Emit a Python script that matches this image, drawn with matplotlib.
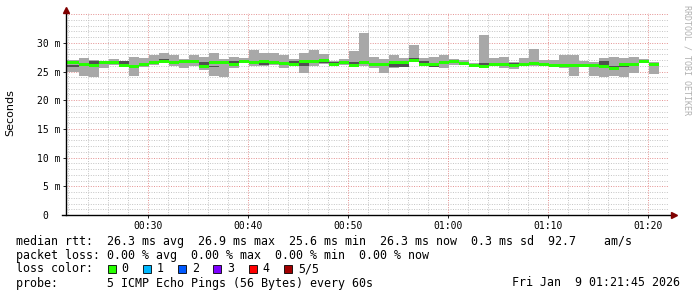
import numpy as np
import matplotlib.pyplot as plt
from matplotlib.patches import Rectangle

# one probe round per minute, first round starts at 00:22 (minutes after 00:00)
start = 22.07

# median / min / max rtt per round (ms)
median = [26.5, 26.3, 26.0, 26.6, 26.6, 26.1, 25.9, 26.2, 26.6, 26.7,
          26.6, 26.7, 26.7, 25.9, 26.6, 26.6, 26.2, 26.7, 26.6, 26.7,
          26.6, 26.4, 26.3, 26.7, 26.7, 26.9, 26.3, 26.5, 26.1, 26.5,
          26.2, 26.2, 26.5, 26.6, 26.9, 26.3, 26.2, 26.6, 26.7, 26.4,
          26.1, 25.9, 26.2, 26.2, 26.0, 26.2, 26.4, 26.2, 26.1, 26.1,
          26.1, 26.1, 26.0, 25.9, 25.6, 26.2, 26.3, 26.7, 26.3]
rtt_min = [25.0, 24.2, 24.1, 25.6, 26.2, 25.9, 24.2, 25.8, 26.2, 26.5,
           25.9, 25.7, 25.9, 25.2, 24.2, 24.1, 25.6, 26.5, 25.9, 25.9,
           26.2, 25.6, 26.2, 24.8, 25.9, 26.4, 26.2, 26.2, 25.9, 25.9,
           25.7, 24.8, 25.6, 25.8, 26.7, 26.2, 25.85, 25.7, 26.2, 26.1,
           25.9, 25.7, 25.9, 25.7, 25.4, 26.2, 26.0, 25.9, 25.9, 25.6,
           24.2, 25.9, 24.2, 24.1, 24.2, 24.1, 24.7, 26.6, 24.5]
rtt_max = [27.0, 27.4, 27.0, 26.9, 27.2, 26.8, 27.6, 27.4, 27.8, 28.3,
           27.8, 27.2, 27.8, 27.6, 28.3, 27.2, 27.6, 27.4, 28.7, 28.3,
           28.3, 27.8, 27.2, 28.3, 28.7, 28.1, 26.9, 27.2, 28.5, 31.8,
           27.6, 27.2, 27.8, 27.4, 29.7, 27.4, 27.6, 27.8, 27.1, 27.0,
           26.5, 31.3, 27.3, 27.6, 26.6, 27.4, 29.0, 27.0, 27.0, 27.9,
           27.9, 26.9, 26.7, 27.4, 27.6, 27.4, 27.6, 27.2, 26.7]
# inner (darker) smoke band, nan where hidden behind the median
nan = np.nan
inner_lo = [25.87, nan, 26.16, nan, nan, 26.16, 25.70, nan, 26.40, 26.86,
            nan, nan, nan, 26.16, 25.87, nan, 26.45, nan, nan, 26.16,
            nan, nan, 26.57, 26.05, nan, 26.45, 26.45, nan, 26.28, 26.55,
            nan, nan, 25.87, 25.87, 27.00, 26.57, 25.87, 26.45, 26.45, nan,
            nan, 26.16, nan, nan, 26.34, nan, 26.34, nan, nan, 25.99,
            nan, nan, nan, 26.05, 25.87, 25.87, nan, nan, nan]
inner_hi = [26.16, nan, 26.75, nan, nan, 26.75, 26.05, nan, 26.55, 27.21,
            nan, nan, nan, 26.63, 26.05, nan, 26.75, nan, nan, 26.45,
            nan, nan, 26.86, 26.45, nan, 26.86, 26.63, nan, 26.63, 26.70,
            nan, nan, 26.45, 26.75, 27.30, 26.75, 26.16, 26.75, 26.75, nan,
            nan, 26.57, nan, nan, 26.57, nan, 26.57, nan, nan, 26.16,
            nan, nan, nan, 26.75, 26.05, 25.99, nan, nan, nan]

tick_pos = [30, 40, 50, 60, 70, 80]
tick_labels = ['00:30', '00:40', '00:50', '01:00', '01:10', '01:20']
ytick_pos = [0, 5, 10, 15, 20, 25, 30]
ytick_labels = ['0  ', '5 m', '10 m', '15 m', '20 m', '25 m', '30 m']

legend_lines = [
    'median rtt:  26.3 ms avg  26.9 ms max  25.6 ms min  26.3 ms now  0.3 ms sd  92.7    am/s',
    'packet loss: 0.00 % avg  0.00 % max  0.00 % min  0.00 % now',
    'loss color:',
    'probe:       5 ICMP Echo Pings (56 Bytes) every 60s',
]
loss_names = ['0', '1', '2', '3', '4', '5/5']
loss_colors = ['#26ff00', '#00b8ff', '#0059ff', '#7e00ff', '#ff0000', '#a10000']
stamp = 'Fri Jan  9 01:21:45 2026'

W, H = 697, 297
x_left, x_right = 21.77, 81.97
y_top = 35.2

fig = plt.figure(figsize=(W / 100, H / 100), dpi=100)
ax = fig.add_axes([66 / W, 1 - 215 / H, (668 - 66) / W, (215 - 13) / H])
ax.set_xlim(x_left, x_right)
ax.set_ylim(0, y_top)

# grid
for v in np.arange(1, 36):
    if v % 5:
        ax.axhline(v, color='#c4c4c4', lw=0.7, ls=(0, (1, 1.5)), zorder=0)
    else:
        ax.axhline(v, color='#e49090', lw=0.7, ls=(0, (1, 1.5)), zorder=0)
for m in np.arange(22, 82, 2):
    if m % 10:
        ax.axvline(m, color='#c4c4c4', lw=0.7, ls=(0, (1, 1.5)), zorder=0)
    else:
        ax.axvline(m, color='#e49090', lw=0.7, ls=(0, (1, 1.5)), zorder=0)

edges = start + np.arange(len(median) + 1)
edges[0] = x_left
med = np.array(median)
lo2 = np.where(np.isnan(inner_lo), med, inner_lo)
hi2 = np.where(np.isnan(inner_hi), med, inner_hi)

# smoke
ax.stairs(rtt_max, edges, baseline=rtt_min, fill=True, color='#a8a8a8', lw=0, zorder=2)
ax.stairs(hi2, edges, baseline=lo2, fill=True, color='#505050', lw=0, zorder=3)
# median, drawn as a ~3 px band in the loss colour
half = 1.5 * y_top / 202
ax.stairs(med + half, edges, baseline=med - half, fill=True, color=loss_colors[0], lw=0, zorder=4)

# axes
for s in ax.spines.values():
    s.set_visible(False)
ax.plot([x_left, x_left], [0, y_top + 0.2], color='black', lw=1, clip_on=False, zorder=5)
ax.plot([x_left - 0.4, x_right + 0.4], [0, 0], color='black', lw=1, clip_on=False, zorder=5)
ax.plot([x_left], [y_top + 0.5], marker='^', ms=4, color='#800000', clip_on=False, zorder=6)
ax.plot([x_right + 0.6], [0], marker='>', ms=4, color='#800000', clip_on=False, zorder=6)

ax.set_xticks(tick_pos)
ax.set_xticklabels(tick_labels, family='DejaVu Sans Mono', fontsize=7)
ax.set_yticks(ytick_pos)
ax.set_yticklabels(ytick_labels, family='DejaVu Sans Mono', fontsize=7)
ax.tick_params(axis='both', length=2, width=0.6, pad=2)
ax.set_facecolor('white')

fig.text(10 / W, 1 - 113 / H, 'Seconds', rotation=90, ha='center', va='center',
         fontsize=8, family='DejaVu Sans')
fig.text(687 / W, 1 - 5 / H, 'RRDTOOL / TOBI OETIKER', rotation=270, ha='center', va='top',
         fontsize=6, family='DejaVu Sans Mono', color='#b0b0b0')

# legend block
cw = 7.05
x0 = 16
for i, line in enumerate(legend_lines):
    fig.text(x0 / W, 1 - (241 + 14 * i) / H, line, ha='left', va='center',
             fontsize=8.4, family='DejaVu Sans Mono')
for i, (name, col) in enumerate(zip(loss_names, loss_colors)):
    sx = x0 + (13 + 5 * i) * cw
    fig.patches.append(Rectangle((sx / W, 1 - 273 / H), 8 / W, 8 / H, transform=fig.transFigure,
                                 facecolor=col, edgecolor='black', lw=0.6))
    fig.text((sx + 2 * cw) / W, 1 - 269 / H, name, ha='left', va='center',
             fontsize=8.4, family='DejaVu Sans Mono')
fig.text(680 / W, 1 - 283 / H, stamp, ha='right', va='center',
         fontsize=8.4, family='DejaVu Sans Mono')

fig.savefig('out.png', dpi=100, facecolor='white')
